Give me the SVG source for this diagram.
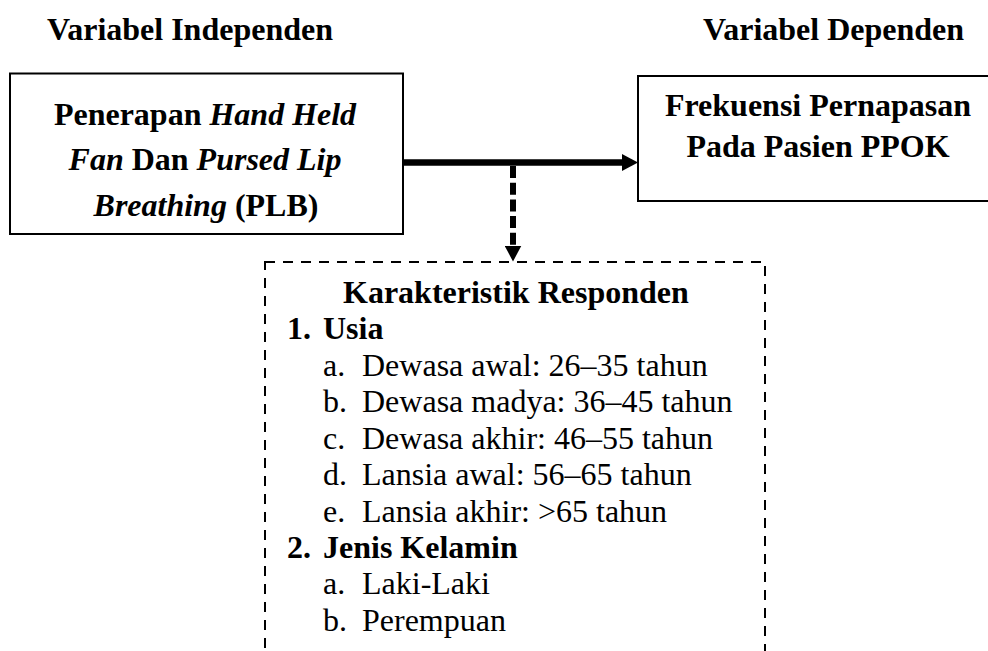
<svg xmlns="http://www.w3.org/2000/svg" width="988" height="651" viewBox="0 0 988 651">
  <style>
    text { font-family: "Liberation Serif", "Times New Roman", serif; font-size: 32px; fill: #000; }
    .b { font-weight: bold; }
    .bi { font-weight: bold; font-style: italic; }
    .box { fill: #fff; stroke: #000; stroke-width: 2; }
    .dbox { fill: none; stroke: #000; stroke-width: 2; stroke-dasharray: 10 8; }
  </style>
  <defs>
    <marker id="arrow" markerWidth="16" markerHeight="17" refX="0" refY="8.5" orient="auto" markerUnits="userSpaceOnUse" viewBox="0 0 16 17">
      <path d="M0,0 L16,8.5 L0,17 Z" fill="#000"/>
    </marker>
  </defs>
  <rect x="0" y="0" width="988" height="651" fill="#fff"/>

  <g id="header-independen">
    <text class="b" x="47" y="40">Variabel Independen</text>
  </g>
  <g id="header-dependen">
    <text class="b" x="703" y="40">Variabel Dependen</text>
  </g>

  <g id="node-independen">
    <rect class="box" x="10" y="73.5" width="393" height="160.5"/>
    <text x="205" y="124.5" text-anchor="middle"><tspan class="b">Penerapan </tspan><tspan class="bi">Hand Held</tspan></text>
    <text x="205" y="170" text-anchor="middle"><tspan class="bi">Fan</tspan><tspan class="b"> Dan </tspan><tspan class="bi">Pursed Lip</tspan></text>
    <text x="206" y="215.5" text-anchor="middle"><tspan class="bi">Breathing</tspan><tspan class="b"> (PLB)</tspan></text>
  </g>

  <g id="node-dependen">
    <rect class="box" x="638" y="76" width="370" height="125"/>
    <text class="b" x="818" y="116" text-anchor="middle">Frekuensi Pernapasan</text>
    <text class="b" x="818" y="157" text-anchor="middle">Pada Pasien PPOK</text>
  </g>

  <g id="node-karakteristik">
    <rect class="dbox" x="265" y="262" width="500" height="440"/>
    <text class="b" x="343" y="303">Karakteristik Responden</text>
    <text class="b" x="287" y="339.3">1.</text>
    <text class="b" x="323" y="339.3">Usia</text>
    <text x="323" y="375.7">a.</text>
    <text x="362" y="375.7">Dewasa awal: 26–35 tahun</text>
    <text x="323" y="412.2">b.</text>
    <text x="362" y="412.2">Dewasa madya: 36–45 tahun</text>
    <text x="323" y="448.6">c.</text>
    <text x="362" y="448.6">Dewasa akhir: 46–55 tahun</text>
    <text x="323" y="485">d.</text>
    <text x="362" y="485">Lansia awal: 56–65 tahun</text>
    <text x="323" y="521.5">e.</text>
    <text x="362" y="521.5">Lansia akhir: &gt;65 tahun</text>
    <text class="b" x="287" y="557.9">2.</text>
    <text class="b" x="323" y="557.9">Jenis Kelamin</text>
    <text x="323" y="594.3">a.</text>
    <text x="362" y="594.3">Laki-Laki</text>
    <text x="323" y="630.7">b.</text>
    <text x="362" y="630.7">Perempuan</text>
  </g>

  <g id="connectors">
    <line x1="403" y1="162.5" x2="622" y2="162.5" stroke="#000" stroke-width="6.5" marker-end="url(#arrow)"/>
    <line x1="513" y1="166" x2="513" y2="245.5" stroke="#000" stroke-width="6" stroke-dasharray="12 4.7" marker-end="url(#arrow)"/>
  </g>
</svg>
